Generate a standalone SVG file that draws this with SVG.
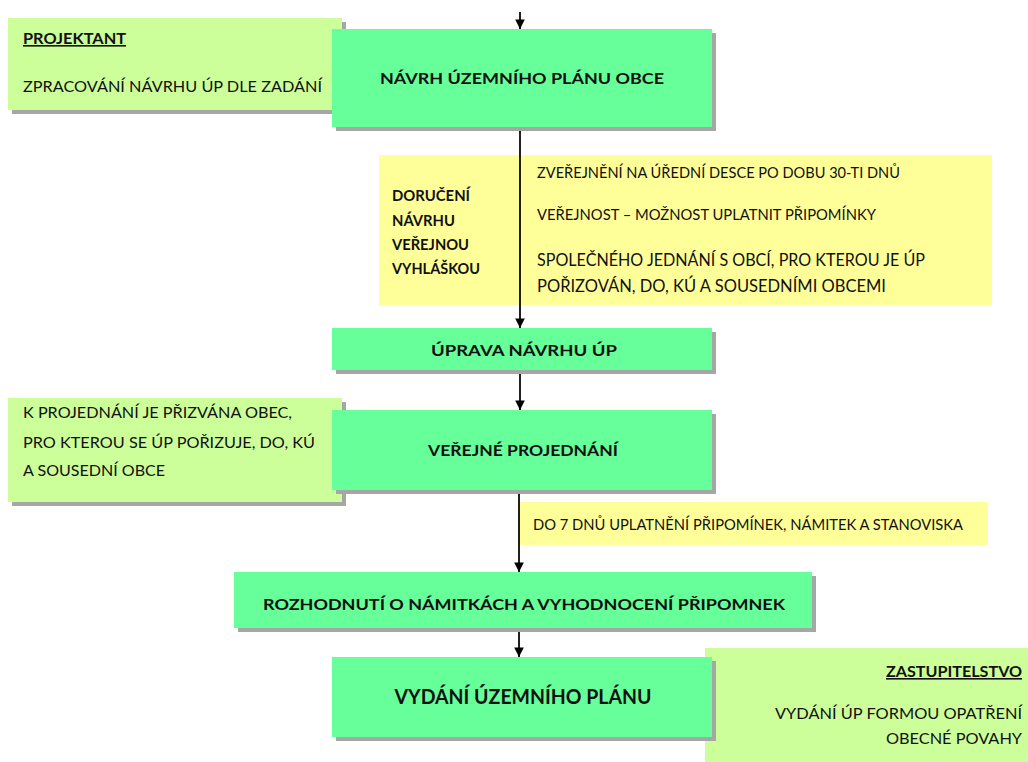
<svg xmlns="http://www.w3.org/2000/svg" width="1028" height="762" viewBox="0 0 1028 762">
<style>
text{font-family:Lato,"Open Sans","Liberation Sans",sans-serif;fill:#111}
.g{fill:#66FF99}
.l{fill:#CCFF99}
.y{fill:#FFFF99}
.sh{fill:#A6A6A6}
.b{font-weight:bold}
.t{font-size:16px}
.m{text-anchor:middle}
.e{text-anchor:end}
.u{text-decoration:underline}
.ln{stroke:#000;stroke-width:1.75;fill:none}
</style>
<defs>
<marker id="ah" viewBox="0 0 10 10" refX="10" refY="5" markerWidth="6" markerHeight="5.5" orient="auto" markerUnits="strokeWidth">
<path d="M0,0 L10,5 L0,10 z" fill="#000"/>
</marker>
</defs>

<g id="note-projektant">
<rect class="sh" x="12" y="22" width="334" height="92"/>
<rect class="l" x="8" y="18" width="334" height="92"/>
<text class="t b u" x="23" y="44" textLength="103" lengthAdjust="spacingAndGlyphs">PROJEKTANT</text>
<text class="t" x="23" y="92" textLength="299" lengthAdjust="spacingAndGlyphs">ZPRACOVÁNÍ NÁVRHU ÚP DLE ZADÁNÍ</text>
</g>

<g id="note-doruceni">
<rect class="y" x="379" y="155" width="613" height="150"/>
<text class="b" font-size="14.5" x="392" y="201" textLength="78" lengthAdjust="spacingAndGlyphs">DORUČENÍ</text>
<text class="b" font-size="14.5" x="392" y="226" textLength="63" lengthAdjust="spacingAndGlyphs">NÁVRHU</text>
<text class="b" font-size="14.5" x="392" y="250" textLength="77" lengthAdjust="spacingAndGlyphs">VEŘEJNOU</text>
<text class="b" font-size="14.5" x="392" y="274" textLength="88" lengthAdjust="spacingAndGlyphs">VYHLÁŠKOU</text>
<text font-size="15" x="537" y="178" textLength="363" lengthAdjust="spacingAndGlyphs">ZVEŘEJNĚNÍ NA ÚŘEDNÍ DESCE PO DOBU 30-TI DNŮ</text>
<text font-size="15" x="537" y="220" textLength="339" lengthAdjust="spacingAndGlyphs">VEŘEJNOST – MOŽNOST UPLATNIT PŘIPOMÍNKY</text>
<text font-size="17" x="537" y="266" textLength="388" lengthAdjust="spacingAndGlyphs">SPOLEČNÉHO JEDNÁNÍ S OBCÍ, PRO KTEROU JE ÚP</text>
<text font-size="17" x="537" y="292" textLength="349" lengthAdjust="spacingAndGlyphs">POŘIZOVÁN, DO, KÚ A SOUSEDNÍMI OBCEMI</text>
</g>

<g id="note-projednani">
<rect class="sh" x="12" y="402" width="334" height="104"/>
<rect class="l" x="8" y="398" width="334" height="104"/>
<text class="t" x="23" y="418" textLength="269" lengthAdjust="spacingAndGlyphs">K PROJEDNÁNÍ JE PŘIZVÁNA OBEC,</text>
<text class="t" x="23" y="448" textLength="292" lengthAdjust="spacingAndGlyphs">PRO KTEROU SE ÚP POŘIZUJE, DO, KÚ</text>
<text class="t" x="23" y="476" textLength="142" lengthAdjust="spacingAndGlyphs">A SOUSEDNÍ OBCE</text>
</g>

<g id="note-lhuta">
<rect class="y" x="518" y="502" width="470" height="43"/>
<text font-size="15" x="533" y="530" textLength="430" lengthAdjust="spacingAndGlyphs">DO 7 DNŮ UPLATNĚNÍ PŘIPOMÍNEK, NÁMITEK A STANOVISKA</text>
</g>

<g id="note-zastupitelstvo">
<rect class="l" x="705" y="648" width="330" height="120"/>
<text class="t b u e" x="1022" y="677" textLength="136" lengthAdjust="spacingAndGlyphs">ZASTUPITELSTVO</text>
<text class="t e" x="1022" y="719" textLength="247" lengthAdjust="spacingAndGlyphs">VYDÁNÍ ÚP FORMOU OPATŘENÍ</text>
<text class="t e" x="1022" y="744" textLength="136" lengthAdjust="spacingAndGlyphs">OBECNÉ POVAHY</text>
</g>

<g id="connectors">
<line class="ln" x1="520" y1="12" x2="520" y2="29" marker-end="url(#ah)"/>
<line class="ln" x1="520" y1="127" x2="520" y2="328" marker-end="url(#ah)"/>
<line class="ln" x1="520" y1="370" x2="520" y2="410" marker-end="url(#ah)"/>
<line class="ln" x1="519" y1="490" x2="519" y2="572" marker-end="url(#ah)"/>
<line class="ln" x1="519" y1="628" x2="519" y2="657" marker-end="url(#ah)"/>
</g>

<g id="node-navrh">
<rect class="sh" x="336" y="33" width="380" height="98"/>
<rect class="g" x="332" y="29" width="380" height="98"/>
<text class="t b m" x="522" y="84" textLength="284" lengthAdjust="spacingAndGlyphs">NÁVRH ÚZEMNÍHO PLÁNU OBCE</text>
</g>

<g id="node-uprava">
<rect class="sh" x="336" y="332" width="380" height="42"/>
<rect class="g" x="332" y="328" width="380" height="42"/>
<text class="t b m" x="524" y="356" textLength="186" lengthAdjust="spacingAndGlyphs">ÚPRAVA NÁVRHU ÚP</text>
</g>

<g id="node-verejne">
<rect class="sh" x="336" y="414" width="380" height="80"/>
<rect class="g" x="332" y="410" width="380" height="80"/>
<text class="t b m" x="523" y="456" textLength="190" lengthAdjust="spacingAndGlyphs">VEŘEJNÉ PROJEDNÁNÍ</text>
</g>

<g id="node-rozhodnuti">
<rect class="sh" x="238" y="576" width="578" height="56"/>
<rect class="g" x="234" y="572" width="578" height="56"/>
<text class="t b m" x="524" y="610" textLength="522" lengthAdjust="spacingAndGlyphs">ROZHODNUTÍ O NÁMITKÁCH A VYHODNOCENÍ PŘIPOMNEK</text>
</g>

<g id="node-vydani">
<rect class="sh" x="336" y="661" width="380" height="80"/>
<rect class="g" x="332" y="657" width="380" height="80"/>
<text class="b m" font-size="21" x="523" y="704" textLength="257" lengthAdjust="spacingAndGlyphs">VYDÁNÍ ÚZEMNÍHO PLÁNU</text>
</g>
</svg>
